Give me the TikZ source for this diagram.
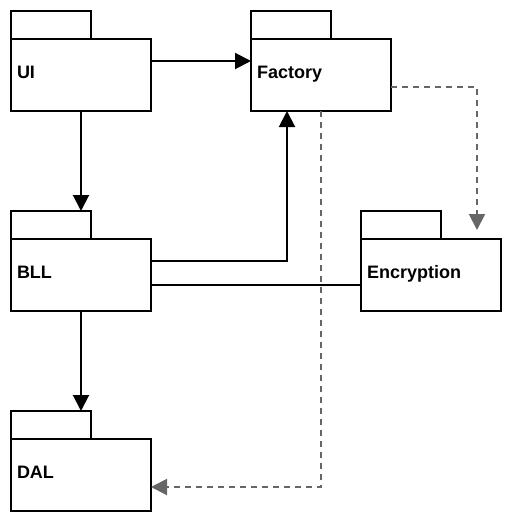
\documentclass[tikz,border=0pt]{standalone}
\usepackage{fontspec}
\setmainfont{Liberation Sans}
\usetikzlibrary{arrows.meta, positioning}

\begin{document}
\begin{tikzpicture}[x=1pt, y=1pt, line width=2pt, >={Triangle[length=16pt, width=16pt]}, every node/.style={font=\fontsize{18}{20}\selectfont\bfseries, outer sep=0pt}, pkg/.style={draw=black, fill=white, minimum width=140pt, minimum height=72pt, text width=128pt, text height=12pt, text depth=5pt, inner xsep=6pt, align=left}, pkgtab/.style={draw=black, fill=white, minimum width=80pt, minimum height=28pt, anchor=south west, inner sep=0pt}, dep/.style={->, draw=black}, use/.style={->, draw=black!60, dash pattern=on 6pt off 5pt}]
	\useasboundingbox (0,0) rectangle (512,-522);
	\node[pkg] (ui) at (81,-75) {UI};
	\node[pkg] (factory) [right=100pt of ui] {Factory};
	\node[pkg] (bll) [below=128pt of ui] {BLL};
	\node[pkg] (encryption) [right=210pt of bll] {Encryption};
	\node[pkg] (dal) [below=128pt of bll] {DAL};
	\node[pkgtab] (uitab) at (ui.north west) {};
	\node[pkgtab] (factorytab) at (factory.north west) {};
	\node[pkgtab] (blltab) at (bll.north west) {};
	\node[pkgtab] (encryptiontab) at (encryption.north west) {};
	\node[pkgtab] (daltab) at (dal.north west) {};
	\coordinate (enctip) at ([xshift=-24pt, yshift=9pt]encryption.north east);
	
	\path (ui.south) edge[dep] (ui.south |- blltab.north)
	         (bll.south) edge[dep] (bll.south |- daltab.north)
	         ([yshift=-22pt]ui.north east) edge[dep] ([yshift=-22pt]factory.north west)
	         ([yshift=-46pt]bll.north east) edge[draw=black] ([yshift=-46pt]encryption.north west);
	\draw[dep] ([yshift=-22pt]bll.north east) -| ([xshift=-34pt]factory.south);
	\draw[use] ([yshift=-48pt]factory.north east) -| (enctip);
	\draw[use] (factory.south) |- ([yshift=-12pt]dal.east);

\end{tikzpicture}
\end{document}
